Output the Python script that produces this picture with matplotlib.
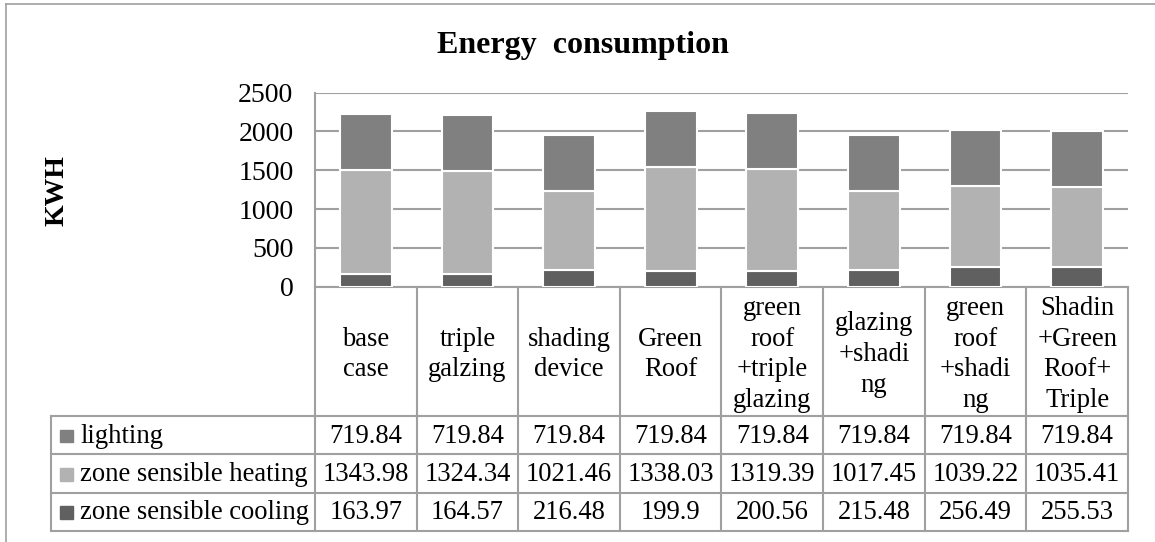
import matplotlib.pyplot as plt
from matplotlib.lines import Line2D
from matplotlib.patches import Rectangle

plt.rcParams['font.family'] = ['Liberation Serif', 'DejaVu Serif']

categories = ["base\ncase", "triple\ngalzing", "shading\ndevice", "Green\nRoof",
              "green\nroof\n+triple\nglazing", "glazing\n+shadi\nng",
              "green\nroof\n+shadi\nng", "Shadin\n+Green\nRoof+\nTriple"]
lighting = [719.84, 719.84, 719.84, 719.84, 719.84, 719.84, 719.84, 719.84]
heating = [1343.98, 1324.34, 1021.46, 1338.03, 1319.39, 1017.45, 1039.22, 1035.41]
cooling = [163.97, 164.57, 216.48, 199.9, 200.56, 215.48, 256.49, 255.53]
series_names = ["lighting", "zone sensible heating", "zone sensible cooling"]
yticks = [0, 500, 1000, 1500, 2000, 2500]

colors = {"lighting": "#808080", "zone sensible heating": "#b2b2b2",
          "zone sensible cooling": "#606060"}
line_c = "#a0a0a0"
fs = 19.2

W, H = 1155, 542
fig = plt.figure(figsize=(W / 100, H / 100), dpi=100)

def fx(px):
    return px / W

def fy(py):
    return 1 - py / H

# outer frame of the chart
fig.add_artist(Line2D([fx(6), fx(6)], [fy(3.5), fy(545)], color=line_c, lw=1.2))
fig.add_artist(Line2D([fx(6), fx(1160)], [fy(3.5), fy(3.5)], color=line_c, lw=1.2))

# bar chart area
x0, x1, ytop, ybot = 315, 1128, 92.7, 286.7
ax = fig.add_axes([fx(x0), fy(ybot), fx(x1 - x0), (ybot - ytop) / H])
n = len(categories)
pos = list(range(n))
bottom2 = cooling
bottom3 = [c + h for c, h in zip(cooling, heating)]
ax.bar(pos, cooling, 0.51, color=colors["zone sensible cooling"], edgecolor="white", lw=1.5, zorder=3)
ax.bar(pos, heating, 0.51, bottom=bottom2, color=colors["zone sensible heating"], edgecolor="white", lw=1.5, zorder=3)
ax.bar(pos, lighting, 0.51, bottom=bottom3, color=colors["lighting"], edgecolor="white", lw=1.5, zorder=3)
ax.set_xlim(-0.5, n - 0.5)
ax.set_ylim(0, 2500)
ax.set_yticks(yticks)
ax.set_yticklabels([str(t) for t in yticks], fontsize=20)
ax.tick_params(axis="y", length=0, pad=15.5)
ax.set_xticks([])
ax.yaxis.grid(True, color=line_c, lw=1.5, zorder=0)
for s in ["top", "right"]:
    ax.spines[s].set_visible(False)
for s in ["left", "bottom"]:
    ax.spines[s].set_color(line_c)
    ax.spines[s].set_linewidth(1.5)

fig.text(fx(583), fy(46), "Energy  consumption", fontsize=23, fontweight="bold",
         ha="center", va="center")
fig.text(fx(57), fy(191), "KWH", fontsize=20, fontweight="bold", rotation=90,
         ha="center", va="center")

# data table under the bars
tl = 51
col_w = (x1 - x0) / n
row_y = [ybot, 416, 454.3, 492.7, 531]
tax = fig.add_axes([fx(tl), fy(row_y[-1]), fx(x1 - tl), (row_y[-1] - ybot) / H])
tax.set_xlim(-0.5 - (x0 - tl) / col_w, n - 0.5)
tax.set_ylim(row_y[-1], ybot)
tax.axis("off")
lkw = dict(color=line_c, lw=1.5, clip_on=False)
left = -0.5 - (x0 - tl) / col_w
for y in row_y[1:]:
    tax.plot([left, n - 0.5], [y, y], **lkw)
tax.plot([left, left], [row_y[1], row_y[-1]], **lkw)
for i in range(n + 1):
    tax.plot([i - 0.5, i - 0.5], [ybot, row_y[-1]], **lkw)

for i, lab in enumerate(categories):
    tax.text(i, (row_y[0] + row_y[1]) / 2 + 3, lab, fontsize=fs, ha="center",
             va="center", linespacing=1.3)

rows = [lighting, heating, cooling]
for r, (name, vals) in enumerate(zip(series_names, rows)):
    yc = (row_y[r + 1] + row_y[r + 2]) / 2
    tax.add_patch(Rectangle((left + 9 / col_w, yc - 6 + 0.5), 12.5 / col_w, 12.5,
                            color=colors[name], clip_on=False))
    tax.text(left + 29 / col_w, yc + 1, name, fontsize=fs, ha="left", va="center")
    for i, v in enumerate(vals):
        tax.text(i, yc + 1, str(v), fontsize=fs, ha="center", va="center")

fig.savefig("out.png", dpi=100)
